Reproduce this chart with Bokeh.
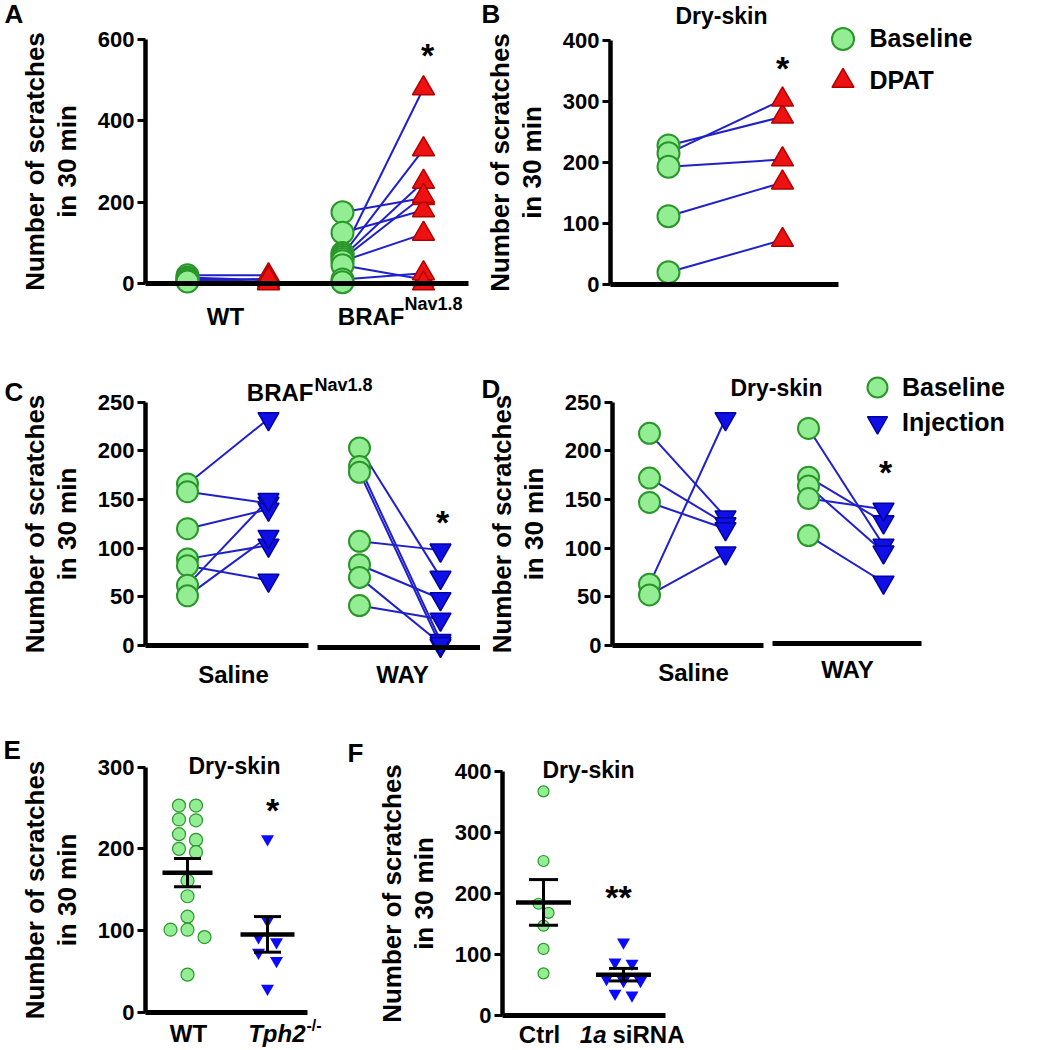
import numpy as np
from bokeh.plotting import figure
from bokeh.models import Range1d, LinearAxis, FixedTicker, Label, Legend, LegendItem
from bokeh.layouts import row, column
from bokeh.embed import file_html
from bokeh.resources import INLINE

FONT = "Liberation Sans"

# ---------------- data ----------------
A_groups = ["WT", "BRAF"]
A_WT_base = [20, 15, 12, 8, 5]
A_WT_dpat = [20, 8, 3, 0, 12]
A_BRAF_base = [175, 125, 75, 70, 65, 60, 55, 45, 10, 3]
A_BRAF_dpat = [210, 180, 480, 330, 250, 215, 122, 10, 25, 0]
A_yticks = [0, 200, 400, 600]

B_base = [228, 215, 193, 112, 20]
B_dpat = [275, 303, 205, 167, 73]
B_yticks = [0, 100, 200, 300, 400]

C_groups = ["Saline", "WAY"]
C_sal_base = [166, 158, 120, 89, 82, 62, 51]
C_sal_inj = [233, 146, 140, 103, 67, 150, 112]
C_way_base = [203, 184, 178, 107, 83, 70, 41]
C_way_inj = [70, 5, 0, 98, 48, 2, 27]
C_yticks = [0, 50, 100, 150, 200, 250]

D_groups = ["Saline", "WAY"]
D_sal_base = [218, 172, 147, 63, 52]
D_sal_inj = [132, 125, 120, 233, 95]
D_way_base = [223, 173, 164, 151, 113]
D_way_inj = [103, 127, 96, 140, 65]
D_yticks = [0, 50, 100, 150, 200, 250]

E_wt = [253, 253, 236, 235, 218, 211, 200, 196, 161, 142, 117, 101, 101, 92, 46]
E_tph2 = [212, 112, 92, 86, 73, 63, 29]
E_yticks = [0, 100, 200, 300]

F_ctrl = [367, 253, 183, 168, 147, 109, 69]
F_sirna = [120, 87, 85, 60, 57, 57, 36, 33]
F_yticks = [0, 100, 200, 300, 400]

YLABEL = "Number of scratches\nin 30 min"

# ---------------- styles ----------------
GREEN_FILL = "#93EE93"
GREEN_LINE = "#2A962A"
RED_FILL = "#EE1111"
RED_LINE = "#B00000"
BLUE_FILL = "#1010E6"
BLUE_LINE = "#0000A0"
LINK = "#2020C8"
BRIGHT_BLUE = "#0A0AFF"


class Panel:
    def __init__(self, cl, ct, w, h, axis_x, y0, ytop, yticks, xunit, segments):
        self.cl, self.ct, self.w, self.h = cl, ct, w, h
        self.axis_x = axis_x
        self.y0 = y0 - ct
        ymax = yticks[-1]
        self.pxu = (y0 - ytop) / ymax
        self.xunit = xunit
        x_start = -(axis_x - cl) / xunit
        x_end = (cl + w - axis_x) / xunit
        y_start = -(h - self.y0) / self.pxu
        y_end = ymax + (ytop - ct) / self.pxu
        p = figure(width=w, height=h, x_range=Range1d(x_start, x_end),
                   y_range=Range1d(y_start, y_end), output_backend="svg",
                   toolbar_location=None, x_axis_location=None, y_axis_location=None,
                   min_border_left=0, min_border_right=0,
                   min_border_top=0, min_border_bottom=0, title=None)
        p.outline_line_color = None
        p.background_fill_color = "white"
        p.border_fill_color = "white"
        for g in p.grid:
            g.visible = False
        yax = LinearAxis(ticker=FixedTicker(ticks=yticks), bounds=(0, ymax),
                         axis_label=YLABEL, fixed_location=0)
        yax.axis_line_width = 4.5
        yax.axis_line_color = "black"
        yax.major_tick_out = 8
        yax.major_tick_in = 0
        yax.major_tick_line_width = 3
        yax.major_tick_line_color = "black"
        yax.minor_tick_line_color = None
        yax.major_label_standoff = 3
        yax.major_label_text_font = FONT
        yax.major_label_text_font_size = "22px"
        yax.major_label_text_font_style = "bold"
        yax.major_label_text_color = "black"
        yax.axis_label_text_font = FONT
        yax.axis_label_text_font_size = "26px"
        yax.axis_label_text_font_style = "bold"
        yax.axis_label_text_color = "black"
        yax.axis_label_text_line_height = 1.05
        yax.axis_label_standoff = 13
        p.add_layout(yax, "left")
        for (pa, pb, loc) in segments:
            xa = LinearAxis(ticker=FixedTicker(ticks=[]), fixed_location=loc,
                            bounds=(self.X(pa), self.X(pb)))
            xa.axis_line_width = 5
            xa.axis_line_color = "black"
            xa.major_tick_line_color = None
            xa.minor_tick_line_color = None
            xa.major_label_text_font_size = "0px"
            p.add_layout(xa, "below")
        self.p = p

    def X(self, page_x):
        return (page_x - self.axis_x) / self.xunit

    def Y(self, page_y):
        return (self.y0 - (page_y - self.ct)) / self.pxu

    def text(self, px, base_y, s, size, align="center", style="bold"):
        # base_y: where the text's baseline should sit (page pixels)
        mid = base_y - 0.347 * size
        self.p.add_layout(Label(x=self.X(px), y=self.Y(mid), text=s, text_font=FONT,
                                text_font_size=f"{size}px", text_font_style=style,
                                text_align=align, text_baseline="middle",
                                text_color="black"))

    def star(self, px, cy, s="*", size=34):
        mid = cy + 0.14 * size
        self.p.add_layout(Label(x=self.X(px), y=self.Y(mid), text=s, text_font=FONT,
                                text_font_size=f"{size}px", text_font_style="bold",
                                text_align="center", text_baseline="middle",
                                text_color="black"))

    def legend_item(self, renderer, label, gx, gy, gbox, text_x, size=25):
        left = gx - self.cl - gbox / 2
        top = gy - self.ct - gbox / 2
        lg = Legend(items=[LegendItem(label=label, renderers=[renderer])],
                    location=(left, self.h - (top + gbox)))
        lg.glyph_width = gbox
        lg.glyph_height = gbox
        lg.label_standoff = int(round((text_x - self.cl) - (left + gbox)))
        lg.padding = 0
        lg.margin = 0
        lg.spacing = 0
        lg.border_line_color = None
        lg.background_fill_alpha = 0
        lg.label_text_font = FONT
        lg.label_text_font_size = f"{size}px"
        lg.label_text_font_style = "bold"
        lg.label_text_color = "black"
        lg.label_height = 20
        self.p.add_layout(lg, "center")


def paired(P, xb, xi, base, inj, inj_marker, inj_fill, inj_line, msize):
    n = len(base)
    P.p.segment(x0=[xb] * n, y0=base, x1=[xi] * n, y1=inj, line_color=LINK, line_width=2)
    rb = P.p.scatter(x=[xb] * n, y=base, marker="circle", size=msize, fill_color=GREEN_FILL,
                     line_color=GREEN_LINE, line_width=2)
    ri = P.p.scatter(x=[xi] * n, y=inj, marker=inj_marker, size=msize, fill_color=inj_fill,
                     line_color=inj_line, line_width=1.5)
    return rb, ri


def swarm(vals, pxu, diam, step_px, xunit):
    vals = np.asarray(vals, dtype=float)
    order = np.argsort(-vals, kind="stable")
    offs = np.zeros(len(vals))
    rows, cur = [], []
    for i in order:
        if cur and (vals[cur[0]] - vals[i]) * pxu >= diam:
            rows.append(cur)
            cur = []
        cur.append(i)
    if cur:
        rows.append(cur)
    for r in rows:
        m = len(r)
        for k, i in enumerate(r):
            offs[i] = (k - (m - 1) / 2) * step_px / xunit
    return offs


def dotmean(P, xc, vals, marker, fill, line, size, step_px, mean_half, cap_half):
    vals = np.asarray(vals, dtype=float)
    offs = swarm(vals, P.pxu, size, step_px, P.xunit)
    lw = 1.2 if marker == "circle" else 0
    P.p.scatter(x=xc + offs, y=vals, marker=marker, size=size, fill_color=fill,
                line_color=line, line_width=lw)
    m = vals.mean()
    sem = vals.std(ddof=1) / np.sqrt(len(vals))
    P.p.segment(x0=[xc], y0=[m - sem], x1=[xc], y1=[m + sem], line_color="black", line_width=3)
    P.p.segment(x0=[xc - cap_half, xc - cap_half], y0=[m - sem, m + sem],
                x1=[xc + cap_half, xc + cap_half], y1=[m - sem, m + sem],
                line_color="black", line_width=3)
    P.p.segment(x0=[xc - mean_half], y0=[m], x1=[xc + mean_half], y1=[m],
                line_color="black", line_width=4.5)


# ---------------- Panel A ----------------
A = Panel(0, 0, 480, 330, 145, 283, 39, A_yticks, 81, [(145, 468, 0)])
paired(A, A.X(187), A.X(268), A_WT_base, A_WT_dpat, "triangle", RED_FILL, RED_LINE, 22)
paired(A, A.X(342), A.X(423), A_BRAF_base, A_BRAF_dpat, "triangle", RED_FILL, RED_LINE, 22)
A.text(4, 23, "A", 26, align="left")
A.star(427, 50)
A.text(225, 324, A_groups[0], 24)
A.text(404, 324, A_groups[1], 24, align="right")
A.text(404, 310, "Nav1.8", 18, align="left")

# ---------------- Panel B ----------------
B = Panel(480, 0, 560, 330, 610, 284, 40, B_yticks, 114, [(610, 838, 0)])
rb, ri = paired(B, B.X(668), B.X(782), B_base, B_dpat, "triangle", RED_FILL, RED_LINE, 22)
B.text(481, 23, "B", 26, align="left")
B.text(721, 23, "Dry-skin", 23)
B.star(782, 63)
B.legend_item(rb, "Baseline", 842, 38, 55, 870)
B.legend_item(ri, "DPAT", 842, 80, 55, 870)

# ---------------- Panel C ----------------
C = Panel(0, 330, 480, 385, 145, 645, 401.7, C_yticks, 81, [(145, 308, 0), (317, 480, -2)])
paired(C, C.X(187), C.X(268), C_sal_base, C_sal_inj, "inverted_triangle", BLUE_FILL, BLUE_LINE, 21)
paired(C, C.X(359), C.X(440), C_way_base, C_way_inj, "inverted_triangle", BLUE_FILL, BLUE_LINE, 21)
C.text(4, 401, "C", 26, align="left")
C.text(313, 400, "BRAF", 24, align="right")
C.text(314, 391, "Nav1.8", 18, align="left")
C.star(442, 517)
C.text(233, 682, C_groups[0], 24)
C.text(402, 682, C_groups[1], 24)

# ---------------- Panel D ----------------
D = Panel(480, 330, 560, 385, 612, 645, 401.7, D_yticks, 76, [(612, 763, 0), (772, 921, 2.4)])
rb, ri = paired(D, D.X(649), D.X(725), D_sal_base, D_sal_inj, "inverted_triangle",
                BLUE_FILL, BLUE_LINE, 21)
paired(D, D.X(808), D.X(883), D_way_base, D_way_inj, "inverted_triangle", BLUE_FILL, BLUE_LINE, 21)
D.text(481, 398, "D", 26, align="left")
D.text(776, 395, "Dry-skin", 23)
D.star(885, 467)
D.text(693, 680, D_groups[0], 24)
D.text(847, 677, D_groups[1], 24)
D.legend_item(rb, "Baseline", 877, 387, 50, 897)
D.legend_item(ri, "Injection", 877, 422, 50, 897)

# ---------------- Panel E ----------------
E = Panel(0, 715, 330, 333, 145, 1011.7, 766.7, E_yticks, 80, [(145, 307, 0)])
dotmean(E, E.X(187), E_wt, "circle", GREEN_FILL, GREEN_LINE, 13, 17, 25 / 80, 13.5 / 80)
dotmean(E, E.X(267), E_tph2, "inverted_triangle", BRIGHT_BLUE, BRIGHT_BLUE, 13, 18, 27 / 80, 13.5 / 80)
E.text(3, 759, "E", 26, align="left")
E.text(234, 773, "Dry-skin", 23)
E.star(272, 805)
E.text(188, 1041, "WT", 24)
E.text(305, 1041, "Tph2", 24, align="right", style="bold italic")
E.text(306, 1031, "-/-", 16, align="left")

# ---------------- Panel F ----------------
F = Panel(330, 715, 370, 333, 502, 1015, 770.7, F_yticks, 80, [(502, 665, 0)])
dotmean(F, F.X(543), F_ctrl, "circle", GREEN_FILL, GREEN_LINE, 11, 10, 27.5 / 80, 14.5 / 80)
dotmean(F, F.X(623), F_sirna, "inverted_triangle", BRIGHT_BLUE, BRIGHT_BLUE, 13, 17, 27.5 / 80, 14.5 / 80)
F.text(347, 762, "F", 26, align="left")
F.text(588, 777, "Dry-skin", 23)
F.star(618, 892, "**")
F.text(539, 1042, "Ctrl", 24)
F.text(606, 1042, "1a", 24, align="right", style="bold italic")
F.text(612, 1042, "siRNA", 24, align="left")

layout = column(row(A.p, B.p), row(C.p, D.p), row(E.p, F.p))
open("out.html", "w").write(file_html(layout, INLINE))
